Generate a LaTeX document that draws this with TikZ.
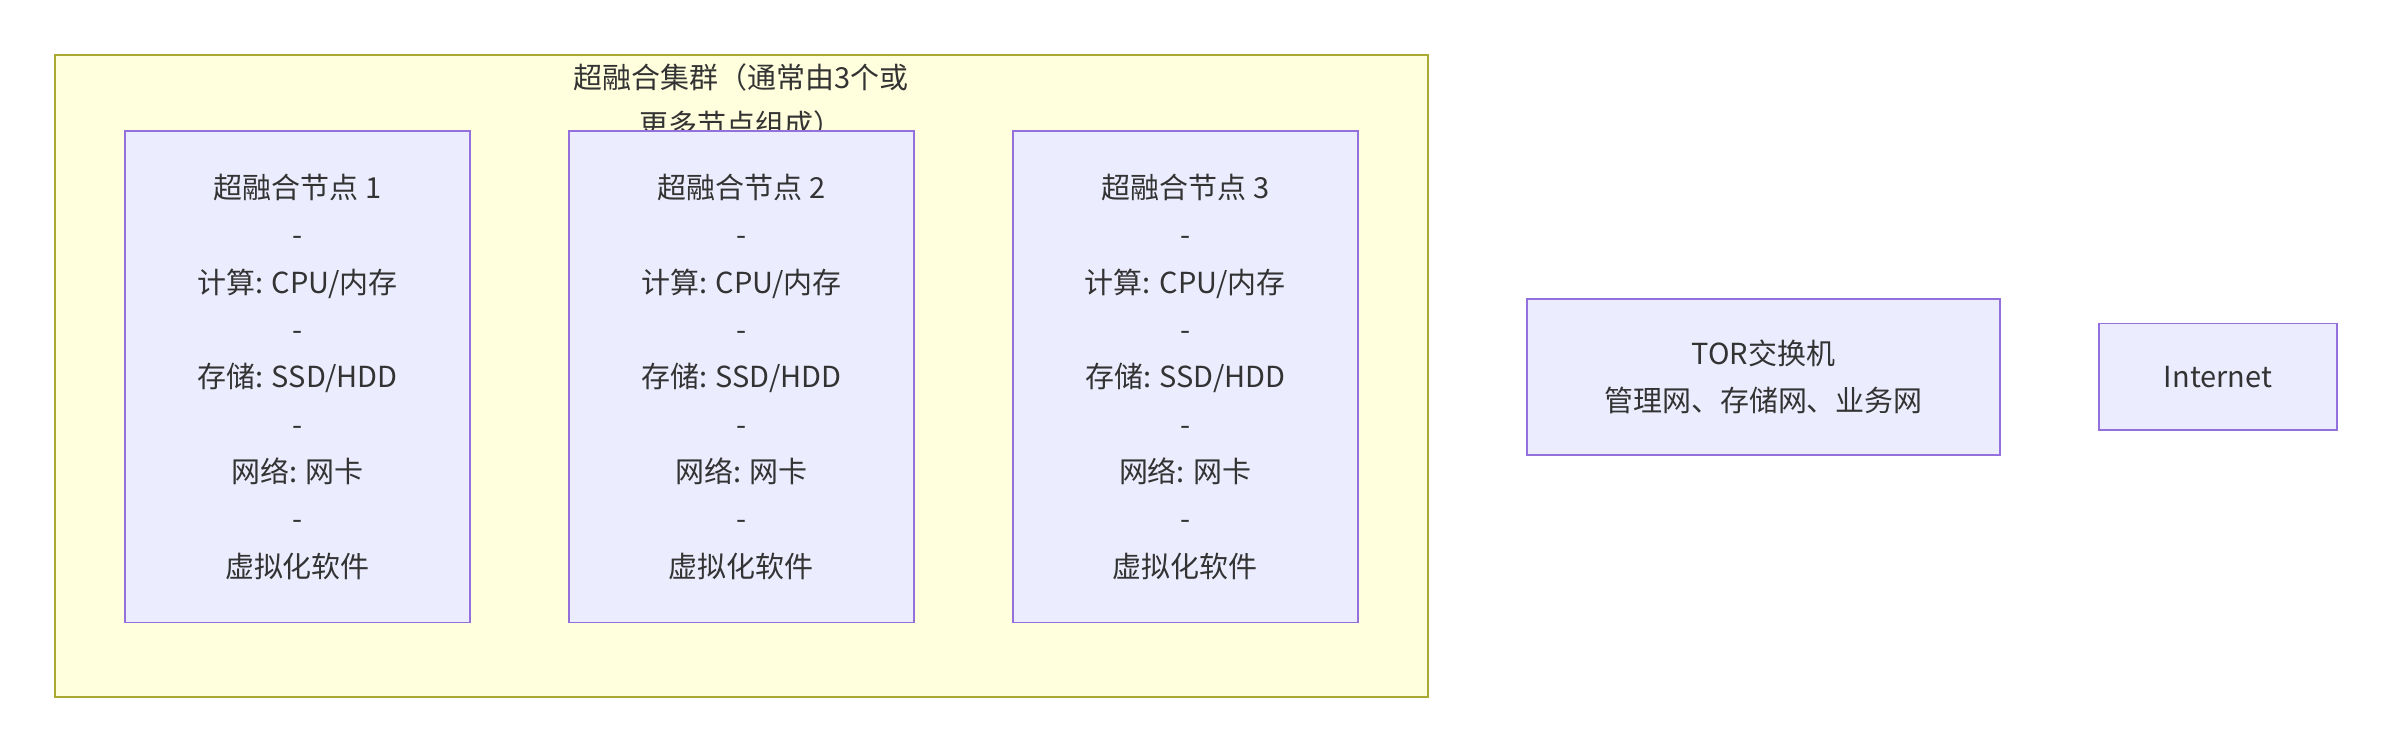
\documentclass[tikz,border=0pt]{standalone}
\usepackage{fontspec}
\setmainfont{Noto Sans CJK SC}
\usepackage{tikz}

\definecolor{clusterfill}{HTML}{FFFFDE}
\definecolor{clusterline}{HTML}{AAAA33}
\definecolor{boxfill}{HTML}{ECECFF}
\definecolor{boxline}{HTML}{9370DB}

\begin{document}
\begin{tikzpicture}[x=0.5pt, y=-0.5pt,
    cluster/.style={draw=clusterline, fill=clusterfill, line width=0.6pt},
    box/.style={draw=boxline, fill=boxfill, line width=0.6pt},
    lbl/.style={align=center, font=\fontsize{9.5}{15.5}\selectfont, text=black!80}]

\useasboundingbox (0,0) rectangle (1568,494);

% cluster
\draw[cluster] (36,36) rectangle (936,457);
\node[lbl] (title) at (486,66) {超融合集群（通常由3个或\\更多节点组成）};

% hyper-converged nodes
\foreach \i/\x in {1/82,2/373,3/664}
{
    \draw[box] (\x,86) rectangle (\x+226,408);
    \node[lbl] (node\i) at (\x+113,247)
        {超融合节点 \i\\-\\计算: CPU/内存\\-\\存储: SSD/HDD\\-\\网络: 网卡\\-\\虚拟化软件};
}

% switch and internet
\draw[box] (1001,196) rectangle (1311,298);
\node[lbl] (tor) at (1156,247) {TOR交换机\\管理网、存储网、业务网};
\draw[box] (1376,212) rectangle (1532,282);
\node[lbl] (internet) at (1454,247) {Internet};

\end{tikzpicture}
\end{document}
